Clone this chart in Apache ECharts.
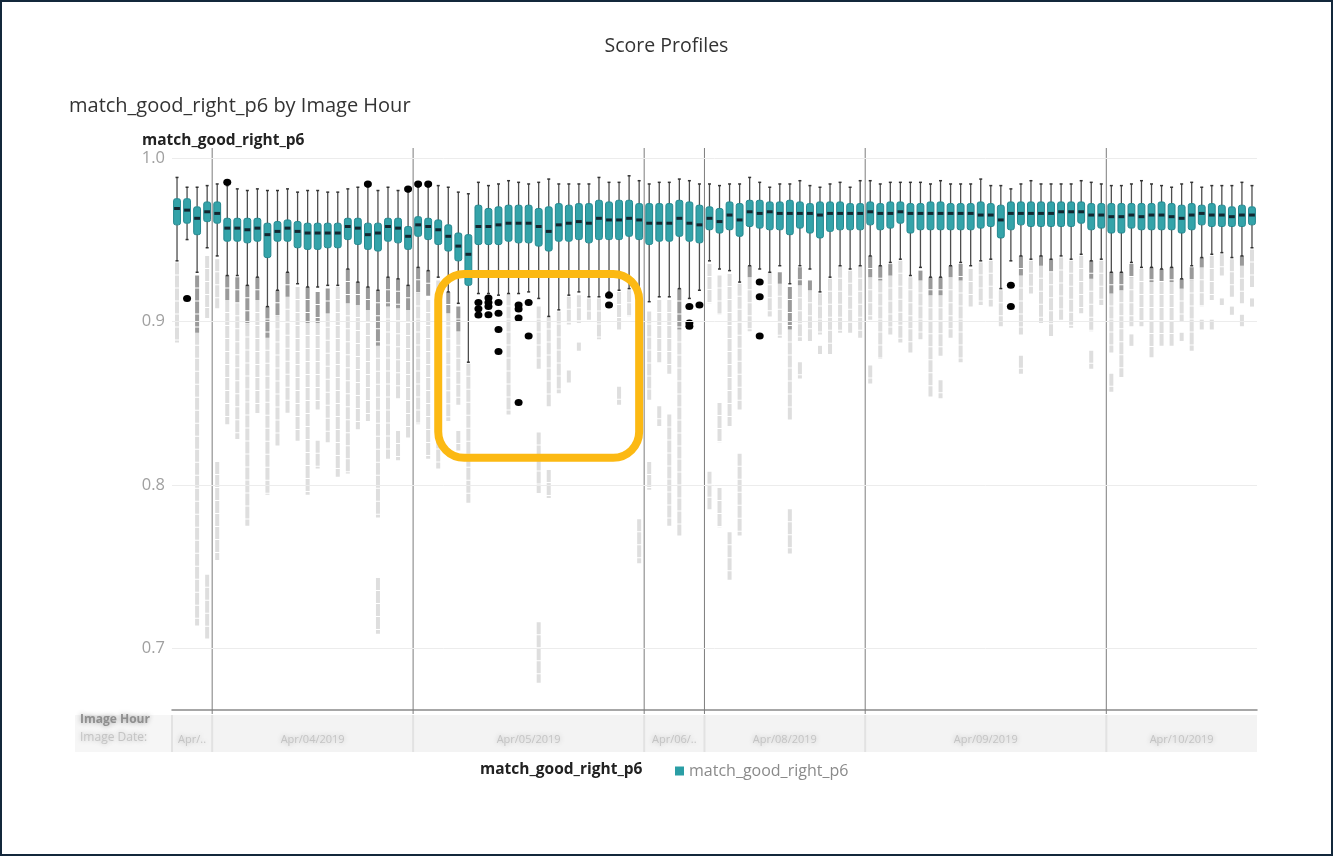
<!DOCTYPE html>
<html><head><meta charset="utf-8">
<script src="https://cdn.jsdelivr.net/npm/echarts@6/dist/echarts.min.js"></script>
<style>
html,body{margin:0;padding:0;background:#fff;}
#chart{position:absolute;left:0;top:0;width:1333px;height:856px;}
#frame{position:absolute;left:0;top:0;width:1333px;height:856px;box-sizing:border-box;border:2px solid #13283b;pointer-events:none;}
</style></head>
<body><div id="chart"></div><div id="frame"></div>
<script>
// ---------- data ----------
const dates = ['Apr/03/2019','Apr/04/2019','Apr/05/2019','Apr/06/2019','Apr/08/2019','Apr/09/2019','Apr/10/2019'];
const hoursByDate = [
  [20,21,22,23],
  [0,1,2,3,4,5,6,7,8,9,10,11,12,13,14,15,16,17,18,19],
  [0,1,2,3,4,5,6,7,8,9,10,11,12,13,14,15,16,17,18,19,20,21,22],
  [0,1,2,3,4,5],
  [8,9,10,11,12,13,14,15,16,17,18,19,20,21,22,23],
  [0,1,2,3,4,5,6,7,8,9,10,11,12,13,14,15,16,17,18,19,20,21,22,23],
  [0,1,2,3,4,5,6,7,8,9,10,11,12,13,14]
];
const yTickValues = [0.7, 0.8, 0.9, 1.0];
// [whisker low, Q1, median, Q3, whisker high] per hour
const boxStats = [
  [0.937,0.959,0.969,0.975,0.988],[0.950,0.960,0.968,0.975,0.982],[0.930,0.953,0.963,0.970,0.982],[0.945,0.961,0.967,0.973,0.983],
  [0.940,0.960,0.966,0.973,0.984],[0.928,0.949,0.957,0.963,0.983],[0.928,0.949,0.957,0.963,0.981],[0.922,0.948,0.956,0.963,0.980],
  [0.927,0.949,0.957,0.963,0.981],[0.909,0.939,0.953,0.960,0.980],[0.919,0.949,0.955,0.961,0.980],[0.930,0.949,0.957,0.962,0.981],
  [0.923,0.945,0.955,0.961,0.979],[0.921,0.944,0.954,0.960,0.980],[0.921,0.944,0.954,0.960,0.980],[0.922,0.945,0.954,0.960,0.979],
  [0.922,0.945,0.954,0.960,0.979],[0.932,0.950,0.958,0.963,0.981],[0.924,0.947,0.957,0.963,0.982],[0.921,0.944,0.953,0.960,0.982],
  [0.919,0.943,0.954,0.960,0.980],[0.927,0.949,0.958,0.963,0.982],[0.926,0.948,0.957,0.963,0.980],[0.922,0.944,0.952,0.958,0.979],
  [0.933,0.952,0.959,0.964,0.982],[0.931,0.950,0.958,0.963,0.982],[0.927,0.947,0.956,0.962,0.983],[0.918,0.943,0.952,0.959,0.982],
  [0.911,0.937,0.946,0.954,0.979],[0.875,0.922,0.941,0.953,0.978],[0.917,0.947,0.958,0.971,0.985],[0.917,0.947,0.958,0.969,0.983],
  [0.916,0.947,0.959,0.970,0.984],[0.917,0.949,0.960,0.971,0.986],[0.917,0.948,0.960,0.971,0.985],[0.918,0.948,0.960,0.971,0.984],
  [0.914,0.946,0.958,0.969,0.985],[0.903,0.943,0.955,0.970,0.987],[0.907,0.949,0.959,0.972,0.984],[0.916,0.949,0.960,0.971,0.984],
  [0.918,0.950,0.961,0.972,0.984],[0.915,0.948,0.960,0.972,0.984],[0.915,0.950,0.963,0.974,0.988],[0.918,0.950,0.962,0.973,0.985],
  [0.919,0.950,0.962,0.974,0.985],[0.920,0.952,0.963,0.974,0.989],[0.919,0.950,0.962,0.972,0.986],
  [0.912,0.947,0.960,0.972,0.984],[0.915,0.949,0.960,0.972,0.985],[0.915,0.949,0.960,0.972,0.985],[0.920,0.952,0.963,0.974,0.987],
  [0.914,0.949,0.960,0.973,0.986],[0.919,0.948,0.959,0.971,0.984],
  [0.937,0.956,0.963,0.970,0.984],[0.932,0.954,0.961,0.969,0.983],[0.931,0.956,0.965,0.973,0.984],[0.924,0.952,0.962,0.972,0.984],
  [0.934,0.958,0.967,0.974,0.988],[0.932,0.957,0.966,0.974,0.985],[0.930,0.956,0.967,0.973,0.982],[0.934,0.956,0.966,0.973,0.984],
  [0.923,0.953,0.966,0.974,0.984],[0.934,0.957,0.966,0.973,0.986],[0.932,0.954,0.966,0.972,0.983],[0.918,0.951,0.965,0.973,0.982],
  [0.927,0.955,0.966,0.973,0.984],[0.934,0.956,0.966,0.973,0.985],[0.932,0.956,0.966,0.972,0.982],[0.934,0.956,0.966,0.972,0.986],
  [0.940,0.959,0.967,0.973,0.986],[0.934,0.956,0.966,0.972,0.984],[0.936,0.957,0.966,0.973,0.985],[0.938,0.960,0.967,0.973,0.985],
  [0.928,0.954,0.966,0.972,0.985],[0.933,0.956,0.966,0.972,0.985],[0.927,0.956,0.966,0.973,0.984],[0.927,0.956,0.966,0.973,0.986],
  [0.934,0.956,0.966,0.972,0.984],[0.936,0.956,0.966,0.972,0.984],[0.934,0.956,0.966,0.972,0.984],[0.937,0.957,0.965,0.973,0.987],
  [0.938,0.958,0.965,0.972,0.983],[0.920,0.951,0.962,0.971,0.983],[0.937,0.956,0.966,0.973,0.981],[0.940,0.959,0.966,0.973,0.984],
  [0.938,0.958,0.966,0.973,0.986],[0.940,0.958,0.966,0.973,0.984],[0.938,0.958,0.966,0.973,0.984],[0.940,0.958,0.967,0.973,0.984],
  [0.938,0.958,0.967,0.973,0.984],[0.941,0.960,0.967,0.973,0.986],[0.937,0.956,0.965,0.972,0.985],[0.938,0.957,0.965,0.972,0.984],
  [0.930,0.954,0.964,0.972,0.983],[0.930,0.954,0.964,0.972,0.983],[0.936,0.957,0.965,0.972,0.984],[0.933,0.956,0.964,0.972,0.986],
  [0.933,0.956,0.965,0.972,0.984],[0.932,0.956,0.965,0.973,0.983],[0.933,0.956,0.964,0.972,0.982],[0.926,0.954,0.963,0.971,0.984],
  [0.934,0.956,0.965,0.972,0.985],[0.939,0.959,0.966,0.971,0.982],[0.941,0.958,0.965,0.972,0.983],[0.942,0.958,0.965,0.971,0.983],
  [0.939,0.958,0.964,0.970,0.983],[0.940,0.958,0.965,0.971,0.985],[0.945,0.959,0.965,0.970,0.983]
];
// binned low values: [hour index, top, bottom]
const denseBins = [
  [2,0.928,0.893],[5,0.928,0.913],[6,0.927,0.911],[7,0.922,0.898],[8,0.927,0.913],[9,0.909,0.890],[10,0.919,0.903],[11,0.930,0.915],
  [13,0.921,0.899],[14,0.918,0.899],[15,0.920,0.904],[17,0.932,0.911],[18,0.924,0.910],[19,0.921,0.907],[20,0.919,0.885],[21,0.927,0.909],
  [22,0.926,0.908],[23,0.922,0.907],[24,0.933,0.917],[25,0.931,0.915],[27,0.918,0.905],[28,0.909,0.893],[50,0.920,0.895],
  [57,0.934,0.927],[60,0.930,0.923],[61,0.921,0.895],[62,0.933,0.922],[63,0.925,0.919],
  [69,0.940,0.927],[70,0.934,0.925],[71,0.935,0.928],[74,0.931,0.925],[75,0.927,0.916],[76,0.927,0.916],[77,0.934,0.927],[78,0.935,0.925],
  [84,0.940,0.928],[86,0.940,0.934],[87,0.938,0.930],[91,0.937,0.926],
  [93,0.930,0.917],[94,0.930,0.919],[95,0.935,0.927],[97,0.933,0.924],[98,0.932,0.924],[99,0.933,0.924],[100,0.926,0.920],[101,0.933,0.925],
  [102,0.939,0.933],[106,0.940,0.934]
];
const sparseBins = [
  [0,0.936,0.887],[2,0.893,0.714],[3,0.940,0.902],[3,0.745,0.706],
  [4,0.938,0.908],[4,0.814,0.754],[5,0.913,0.837],[6,0.911,0.828],[7,0.898,0.775],[8,0.913,0.844],[9,0.890,0.794],[10,0.903,0.824],
  [11,0.915,0.844],[12,0.921,0.827],[13,0.899,0.794],[14,0.899,0.846],[14,0.827,0.810],[15,0.904,0.826],[16,0.921,0.805],[17,0.911,0.807],
  [18,0.910,0.834],[19,0.907,0.839],[20,0.885,0.780],[20,0.743,0.709],[21,0.909,0.816],[22,0.908,0.853],[22,0.833,0.815],[23,0.907,0.829],
  [24,0.917,0.837],[25,0.913,0.816],[26,0.925,0.810],[27,0.905,0.839],[28,0.893,0.849],[28,0.833,0.821],[29,0.874,0.789],[33,0.917,0.843],
  [36,0.909,0.871],[36,0.832,0.795],[36,0.716,0.679],[37,0.903,0.848],[37,0.809,0.792],[38,0.906,0.856],[39,0.915,0.898],[39,0.870,0.862],
  [40,0.916,0.899],[40,0.887,0.882],[41,0.914,0.901],[42,0.914,0.889],[44,0.918,0.895],[44,0.860,0.849],[45,0.919,0.903],[46,0.917,0.840],
  [46,0.779,0.752],
  [47,0.906,0.852],[47,0.814,0.797],[48,0.913,0.875],[48,0.848,0.836],[49,0.913,0.868],[49,0.843,0.775],[50,0.895,0.769],
  [53,0.935,0.911],[53,0.808,0.785],[54,0.928,0.904],[54,0.850,0.826],[54,0.798,0.774],[55,0.929,0.836],[55,0.771,0.742],[56,0.923,0.846],
  [56,0.819,0.769],[57,0.927,0.894],[59,0.930,0.903],[60,0.923,0.890],[61,0.895,0.840],[61,0.785,0.758],[62,0.922,0.888],[62,0.875,0.865],
  [63,0.919,0.888],[64,0.917,0.892],[64,0.885,0.880],[65,0.926,0.880],[66,0.934,0.893],[67,0.931,0.893],[68,0.934,0.890],
  [69,0.927,0.901],[69,0.873,0.862],[70,0.925,0.877],[71,0.928,0.892],[72,0.937,0.887],[73,0.927,0.881],[74,0.925,0.889],[75,0.916,0.854],
  [76,0.916,0.879],[76,0.864,0.853],[77,0.927,0.890],[78,0.925,0.875],[79,0.932,0.909],[80,0.936,0.910],[81,0.937,0.909],[82,0.919,0.897],
  [84,0.928,0.892],[84,0.879,0.868],[85,0.937,0.917],[86,0.934,0.899],[87,0.930,0.891],[88,0.939,0.901],[89,0.937,0.896],[90,0.940,0.905],
  [91,0.926,0.894],[91,0.882,0.871],[92,0.937,0.910],
  [93,0.917,0.881],[93,0.868,0.857],[94,0.919,0.866],[95,0.927,0.897],[95,0.892,0.885],[96,0.932,0.897],[97,0.924,0.878],[98,0.924,0.885],
  [99,0.924,0.885],[100,0.920,0.900],[100,0.893,0.888],[101,0.925,0.882],[102,0.933,0.909],[102,0.901,0.895],[103,0.940,0.913],[103,0.901,0.895],
  [104,0.941,0.928],[104,0.914,0.910],[105,0.938,0.915],[105,0.909,0.904],[106,0.934,0.911],[106,0.904,0.897],[107,0.944,0.921],[107,0.914,0.909]
];
// individual outliers: [hour index, value]
const outliers = [
  [1,0.914],[5,0.985],[19,0.984],[23,0.981],[24,0.984],[25,0.984],
  [30,0.9115],[30,0.9077],[30,0.9038],[31,0.9142],[31,0.9115],[31,0.909],[31,0.904],
  [32,0.9115],[32,0.905],[32,0.895],[32,0.8815],[34,0.910],[34,0.9075],[34,0.902],[34,0.8504],
  [35,0.9115],[35,0.891],[43,0.916],[43,0.910],[51,0.909],[51,0.899],[51,0.897],[52,0.910],
  [58,0.924],[58,0.915],[58,0.891],[83,0.922],[83,0.909]
];
// highlighted region: [from hour index, to hour index, top value, bottom value]
const highlight = [[26, 46, 0.929, 0.8165]];

// ---------- derived ----------
const categories = [];
const groups = [];
hoursByDate.forEach((hs, g) => {
  groups.push([categories.length, hs.length, dates[g]]);
  hs.forEach(h => categories.push(dates[g] + ' ' + h));
});
const boundaries = groups.slice(1).map(g => [g[0]]);
const FONT = '"Open Sans", Lato, sans-serif';

function renderBox(params, api) {
  const i = api.value(0);
  const step = api.size([1, 0])[0];
  const bw = step * 0.68;
  const x = api.coord([i, 0.9])[0];
  const pLo = api.coord([i, api.value(1)])[1];
  const pQ1 = api.coord([i, api.value(2)])[1];
  const pMed = api.coord([i, api.value(3)])[1];
  const pQ3 = api.coord([i, api.value(4)])[1];
  const pHi = api.coord([i, api.value(5)])[1];
  const ws = {stroke: '#4d4d4d', lineWidth: 1.3};
  return {type: 'group', children: [
    {type: 'line', shape: {x1: x, y1: pHi, x2: x, y2: pQ3}, style: ws},
    {type: 'line', shape: {x1: x, y1: pQ1, x2: x, y2: pLo}, style: ws},
    {type: 'line', shape: {x1: x - 1.5, y1: pHi, x2: x + 1.5, y2: pHi}, style: {stroke: '#333', lineWidth: 1.5}},
    {type: 'line', shape: {x1: x - 1.5, y1: pLo, x2: x + 1.5, y2: pLo}, style: {stroke: '#333', lineWidth: 1.5}},
    {type: 'rect', shape: {x: x - bw / 2, y: pQ3, width: bw, height: pQ1 - pQ3, r: 2},
      style: {fill: '#34a3a9', stroke: '#23878e', lineWidth: 1}},
    {type: 'rect', shape: {x: x - bw / 2 + 0.5, y: pMed - 1.5, width: bw - 1, height: 3}, style: {fill: '#14262f'}}
  ]};
}
function binRenderer(color) {
  return function (params, api) {
    const i = api.value(0);
    const x = api.coord([i, 0.9])[0];
    const y1 = api.coord([i, api.value(1)])[1];
    const y2 = api.coord([i, api.value(2)])[1];
    return {type: 'line', shape: {x1: x, y1: y1, x2: x, y2: y2},
      style: {stroke: color, lineWidth: 4, lineDash: [12, 1]}};
  };
}
function renderSep(params, api) {
  const cs = params.coordSys;
  const x = api.coord([api.value(0), 0.9])[0] - api.size([1, 0])[0] / 2;
  return {type: 'line', shape: {x1: x, y1: cs.y, x2: x, y2: cs.y + cs.height + 4},
    style: {stroke: '#7d7d7d', lineWidth: 1}};
}
function renderBand(params, api) {
  const cs = params.coordSys;
  const step = api.size([1, 0])[0];
  const s = api.value(0), n = api.value(1);
  const x1 = api.coord([s, 0.9])[0] - step / 2;
  const x2 = api.coord([s + n - 1, 0.9])[0] + step / 2;
  const y0 = cs.y + cs.height;
  return {type: 'group', children: [
    {type: 'rect', shape: {x: x1, y: y0 + 5, width: x2 - x1, height: 37}, style: {fill: '#f3f3f3'}},
    {type: 'line', shape: {x1: x1, y1: y0 + 5, x2: x1, y2: y0 + 42}, style: {stroke: '#e2e2e2', lineWidth: 2}},
    {type: 'text', style: {text: groups[params.dataIndex][2], x: (x1 + x2) / 2, y: y0 + 30,
      align: 'center', verticalAlign: 'middle', width: x2 - x1 - 8, overflow: 'truncate', ellipsis: '..',
      fill: '#c4c4c4', font: '11px ' + FONT, textShadowColor: '#bdbdbd', textShadowBlur: 5}}
  ]};
}
function renderHighlight(params, api) {
  const a = api.coord([api.value(0), api.value(2)]);
  const b = api.coord([api.value(1), api.value(3)]);
  return {type: 'rect', shape: {x: a[0], y: a[1], width: b[0] - a[0], height: b[1] - a[1], r: 26},
    style: {fill: 'none', stroke: '#fcb913', lineWidth: 8}};
}

const chart = echarts.init(document.getElementById('chart'));
chart.setOption({
  backgroundColor: '#fff',
  animation: false,
  textStyle: {fontFamily: FONT},
  title: [
    {text: 'Score Profiles', left: 'center', top: 31, textStyle: {fontSize: 19.5, fontWeight: 'normal', color: '#333', fontFamily: FONT}},
    {text: 'match_good_right_p6 by Image Hour', left: 64, top: 91, textStyle: {fontSize: 20, fontWeight: 'normal', color: '#333', fontFamily: FONT}},
    {text: 'match_good_right_p6', left: 137, top: 128, textStyle: {fontSize: 15.5, fontWeight: 'bold', color: '#222', fontFamily: FONT}},
    {text: 'match_good_right_p6', left: 475, top: 757, textStyle: {fontSize: 15.5, fontWeight: 'bold', color: '#222', fontFamily: FONT}}
  ],
  legend: {left: 670, top: 758, itemWidth: 9, itemHeight: 9, icon: 'rect', itemGap: 10,
    textStyle: {color: '#8a8a8a', fontSize: 16, fontFamily: FONT}, data: ['match_good_right_p6']},
  graphic: [
    {type: 'rect', left: 75, top: 715, shape: {width: 97, height: 37}, style: {fill: '#f6f6f6'}},
    {type: 'text', left: 80, top: 714, style: {text: 'Image Hour', fill: '#8f8f8f', font: 'bold 12px ' + FONT, textShadowColor: '#999', textShadowBlur: 5}},
    {type: 'text', left: 80, top: 732, style: {text: 'Image Date:', fill: '#c4c4c4', font: '12px ' + FONT, textShadowColor: '#bbb', textShadowBlur: 5}}
  ],
  grid: {left: 172, right: 76, top: 148, bottom: 146},
  xAxis: {type: 'category', data: categories, boundaryGap: true,
    axisLine: {show: true, lineStyle: {color: '#8a8a8a', width: 1.5}},
    axisTick: {show: false}, axisLabel: {show: false}, splitLine: {show: false}},
  yAxis: {type: 'value', min: 0.6623, max: 1.006, scale: true,
    axisLine: {show: false}, axisTick: {show: false}, splitLine: {show: false},
    axisLabel: {customValues: yTickValues, formatter: v => v.toFixed(1), color: '#a0a0a0', fontSize: 16.5, margin: 7, fontFamily: FONT}},
  series: [
    {type: 'custom', name: 'sparse', renderItem: binRenderer('#dedede'), data: sparseBins, encode: {x: 0, y: [1, 2]}, z: 1, silent: true},
    {type: 'custom', name: 'dense', renderItem: binRenderer('#9a9a9a'), data: denseBins, encode: {x: 0, y: [1, 2]}, z: 1, silent: true},
    {type: 'custom', name: 'sep', renderItem: renderSep, data: boundaries, encode: {x: 0}, z: 2, silent: true, clip: false},
    {type: 'custom', name: 'band', renderItem: renderBand, data: groups.map(g => [g[0], g[1]]), encode: {x: 0}, z: 0, silent: true, clip: false},
    {type: 'custom', name: 'match_good_right_p6', renderItem: renderBox,
      itemStyle: {color: '#2a9ea5'},
      data: boxStats.map((s, i) => [i].concat(s)), encode: {x: 0, y: [1, 2, 3, 4, 5]}, z: 3},
    {type: 'scatter', name: 'outliers', data: outliers, symbol: 'circle', symbolSize: [8, 7],
      itemStyle: {color: '#000', opacity: 1}, z: 4, silent: true,
      markLine: {silent: true, symbol: 'none', label: {show: false},
        lineStyle: {color: '#ececec', type: 'solid', width: 1},
        data: yTickValues.map(v => ({yAxis: v}))}},
    {type: 'custom', name: 'highlight', renderItem: renderHighlight, data: highlight, encode: {x: [0, 1], y: [2, 3]}, z: 5, silent: true, clip: false}
  ]
});
</script>
</body></html>
